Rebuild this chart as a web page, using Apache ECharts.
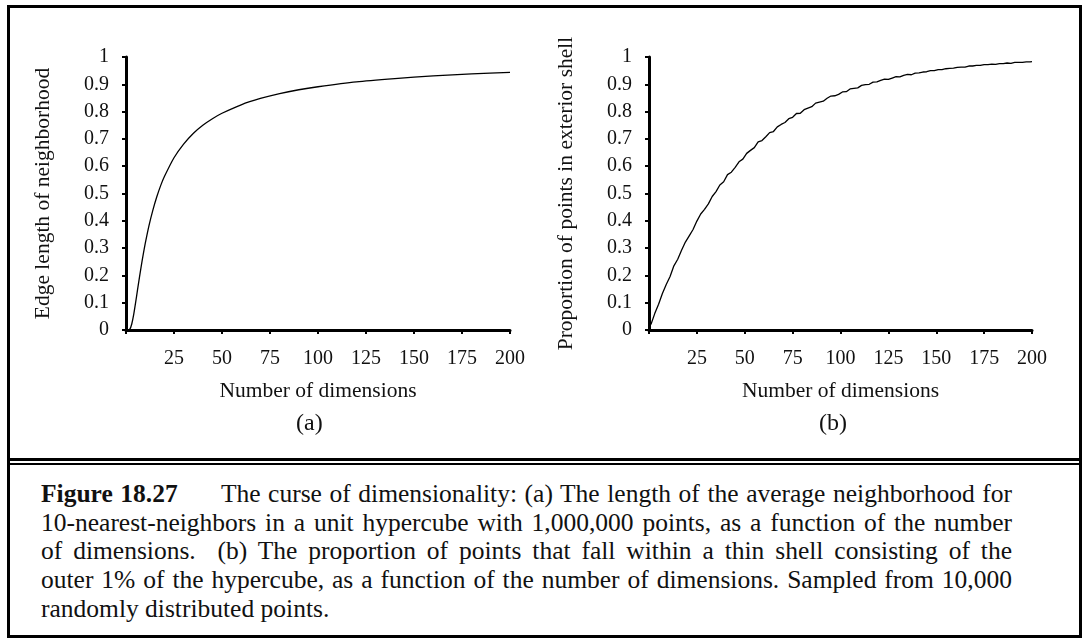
<!DOCTYPE html>
<html>
<head>
<meta charset="utf-8">
<script src="https://cdn.jsdelivr.net/npm/echarts@6/dist/echarts.min.js"></script>
<style>
  html, body { margin: 0; padding: 0; background: #fff; }
  #page { position: relative; width: 1088px; height: 644px; overflow: hidden; }
  #chart { position: absolute; left: 0; top: 0; width: 1088px; height: 460px; }
  .frame { position: absolute; border: 3px solid #000; box-sizing: border-box; }
  .rule { position: absolute; background: #000; }
  #caption {
    position: absolute; left: 41px; width: 971px; top: 480px;
    font-family: "Liberation Serif", "Times New Roman", serif;
    font-size: 25.5px; line-height: 28.7px; color: #111;
  }
  #caption .ln { text-align: justify; text-align-last: justify; white-space: nowrap; }
  #caption .ln.last { text-align: left; text-align-last: left; }
  #caption b { margin-right: 36px; }
</style>
</head>
<body>
<div id="page">
  <div class="frame" style="left:7px; top:5px; width:1075px; height:633px;"></div>
  <div class="rule" style="left:7px; top:458px; width:1075px; height:3px;"></div>
  <div class="rule" style="left:7px; top:463px; width:1075px; height:2px;"></div>
  <div id="chart"></div>
  <div id="caption">
    <div class="ln"><b>Figure 18.27</b> The curse of dimensionality: (a) The length of the average neighborhood for</div>
    <div class="ln">10-nearest-neighbors in a unit hypercube with 1,000,000 points, as a function of the number</div>
    <div class="ln">of dimensions. &nbsp;(b) The proportion of points that fall within a thin shell consisting of the</div>
    <div class="ln">outer 1% of the hypercube, as a function of the number of dimensions. Sampled from 10,000</div>
    <div class="ln last">randomly distributed points.</div>
  </div>
</div>
<script>
// (a) edge length of the neighborhood vs. number of dimensions
const dimsA = [1, 2, 3, 4, 5, 6, 7, 8, 9, 10, 12, 14, 16, 18, 20, 25, 30, 35, 40, 45, 50,
               60, 70, 80, 90, 100, 120, 140, 160, 180, 200];
const edgeLength = [0.000, 0.003, 0.022, 0.056, 0.100, 0.147, 0.193, 0.237, 0.278, 0.316,
                    0.383, 0.439, 0.487, 0.528, 0.562, 0.631, 0.681, 0.720, 0.750, 0.774, 0.794,
                    0.825, 0.848, 0.866, 0.880, 0.891, 0.909, 0.921, 0.931, 0.938, 0.944];

// (b) sampled proportion of points in the exterior shell
const dimsB = [1, 3, 5, 7, 9, 11, 13, 15, 17, 19, 21, 23, 25, 27, 29, 31, 33, 35, 37, 39,
               41, 43, 45, 47, 49, 51, 53, 55, 57, 59, 61, 63, 65, 67, 69, 71, 73, 75, 77, 79,
               81, 83, 85, 87, 89, 91, 93, 95, 97, 99, 101, 103, 105, 107, 109, 111, 113, 115, 117, 119,
               121, 123, 125, 127, 129, 131, 133, 135, 137, 139, 141, 143, 145, 147, 149, 151, 153, 155, 157, 159,
               161, 163, 165, 167, 169, 171, 173, 175, 177, 179, 181, 183, 185, 187, 189, 191, 193, 195, 197, 199, 200];
const shellShare = [0.020, 0.060, 0.094, 0.134, 0.167, 0.196, 0.235, 0.259, 0.292, 0.322,
                    0.345, 0.368, 0.399, 0.425, 0.442, 0.462, 0.489, 0.507, 0.531, 0.543,
                    0.569, 0.578, 0.596, 0.616, 0.626, 0.647, 0.658, 0.668, 0.689, 0.694,
                    0.708, 0.723, 0.727, 0.744, 0.753, 0.760, 0.774, 0.779, 0.793, 0.794,
                    0.807, 0.813, 0.818, 0.831, 0.835, 0.838, 0.849, 0.857, 0.858, 0.863,
                    0.872, 0.873, 0.883, 0.885, 0.887, 0.896, 0.899, 0.900, 0.908, 0.909,
                    0.914, 0.919, 0.918, 0.923, 0.928, 0.927, 0.933, 0.936, 0.935, 0.941,
                    0.942, 0.945, 0.946, 0.950, 0.950, 0.954, 0.954, 0.957, 0.958, 0.959,
                    0.962, 0.963, 0.963, 0.967, 0.967, 0.969, 0.969, 0.972, 0.972, 0.974,
                    0.973, 0.976, 0.976, 0.978, 0.977, 0.980, 0.980, 0.980, 0.982, 0.982, 0.983];

const xTickStep = 25;
const yTickStep = 0.1;
const yAxisTitles = ['Edge length of neighborhood', 'Proportion of points in exterior shell'];
const xAxisTitle = 'Number of dimensions';
const panelTags = ['(a)', '(b)'];

const SERIF = '"Liberation Serif", "Times New Roman", serif';

function pair(xs, ys) { return xs.map((x, i) => [x, ys[i]]); }

const grids = [
  { left: 126, top: 57, width: 384, height: 273 },
  { left: 649, top: 57, width: 383, height: 273 }
];

function xAxisFor(i) {
  return {
    gridIndex: i, type: 'value', min: 0, max: 200, interval: xTickStep,
    name: xAxisTitle, nameLocation: 'middle', nameGap: 50,
    nameTextStyle: { fontFamily: SERIF, fontSize: 21.5, color: '#111' },
    axisLine: { onZero: false, lineStyle: { color: '#000', width: 3 } },
    axisTick: { show: true, length: 4, lineStyle: { color: '#000', width: 2 } },
    axisLabel: {
      fontFamily: SERIF, fontSize: 20, color: '#111', margin: 19,
      formatter: v => (v === 0 ? '' : String(v))
    },
    splitLine: { show: false }
  };
}

function yAxisFor(i) {
  return {
    gridIndex: i, type: 'value', min: 0, max: 1, interval: yTickStep,
    name: yAxisTitles[i], nameLocation: 'middle', nameGap: 72,
    nameTextStyle: { fontFamily: SERIF, fontSize: 21.5, color: '#111' },
    axisLine: { show: true, lineStyle: { color: '#000', width: 3 } },
    axisTick: { show: true, length: 4, lineStyle: { color: '#000', width: 2 } },
    axisLabel: {
      fontFamily: SERIF, fontSize: 20, color: '#111', margin: 17,
      formatter: v => String(Math.round(v * 10) / 10)
    },
    splitLine: { show: false }
  };
}

const lineStyle = { color: '#000', width: 1.3 };

const chart = echarts.init(document.getElementById('chart'), null, { renderer: 'canvas' });
chart.setOption({
  animation: false,
  backgroundColor: 'transparent',
  grid: grids,
  xAxis: [xAxisFor(0), xAxisFor(1)],
  yAxis: [yAxisFor(0), yAxisFor(1)],
  series: [
    { type: 'line', xAxisIndex: 0, yAxisIndex: 0, data: pair(dimsA, edgeLength),
      showSymbol: false, smooth: 0.2, lineStyle: lineStyle },
    { type: 'line', xAxisIndex: 1, yAxisIndex: 1, data: pair(dimsB, shellShare),
      showSymbol: false, smooth: false, lineStyle: lineStyle }
  ],
  graphic: panelTags.map((t, i) => ({
    type: 'text',
    left: (i === 0 ? 310 : 833) - 14,
    top: 412,
    style: { text: t, font: '24px ' + SERIF, fill: '#111' }
  }))
});
</script>
</body>
</html>
